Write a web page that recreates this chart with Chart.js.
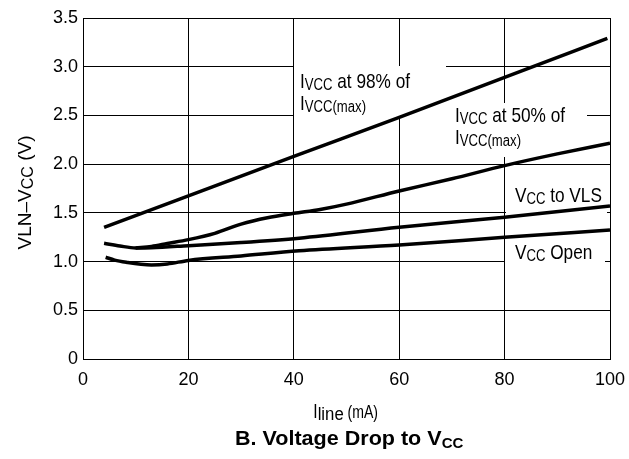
<!DOCTYPE html>
<html>
<head>
<meta charset="utf-8">
<script src="https://cdn.jsdelivr.net/npm/chart.js@4"></script>
<style>
  html, body { margin: 0; padding: 0; background: #fff; }
  #wrap { width: 629px; height: 459px; position: relative; }
</style>
</head>
<body>
<div id="wrap"><canvas id="c" width="629" height="459"></canvas></div>
<script>
// ---- data ----
const xTicks = [0, 20, 40, 60, 80, 100];
const yTicks = [0, 0.5, 1.0, 1.5, 2.0, 2.5, 3.0, 3.5];

const iLine98 = [4, 20, 40, 60, 80, 99.5];
const drop98  = [1.35, 1.675, 2.08, 2.48, 2.89, 3.29];

const iLine50 = [10, 13, 16, 20, 25, 30, 35, 40, 45, 50, 60, 70, 80, 90, 100];
const drop50  = [1.14, 1.155, 1.185, 1.225, 1.29, 1.385, 1.45, 1.495, 1.535, 1.59, 1.725, 1.85, 1.985, 2.105, 2.215];

const iLineVLS = [4, 7, 10, 13, 20, 30, 41, 60, 80, 100];
const dropVLS  = [1.188, 1.16, 1.14, 1.142, 1.163, 1.195, 1.24, 1.352, 1.455, 1.57];

const iLineOpen = [4.3, 6, 8.5, 11, 13, 16, 20, 30, 41, 60, 80, 100];
const dropOpen  = [1.044, 1.015, 0.99, 0.972, 0.965, 0.975, 1.012, 1.058, 1.11, 1.17, 1.249, 1.324];

const pts = (xs, ys) => xs.map((x, i) => ({ x: x, y: ys[i] }));

const FONT = "'Liberation Sans', Arial, Helvetica, sans-serif";

function drawRich(ctx, x, y, segs, rotate) {
  ctx.save();
  ctx.translate(x, y);
  if (rotate) ctx.rotate(-Math.PI / 2);
  ctx.fillStyle = '#000';
  ctx.textBaseline = 'alphabetic';
  ctx.textAlign = 'left';
  let cx = 0;
  const widths = segs.map(s => {
    ctx.font = (s.bold ? 'bold ' : '') + s.s + 'px ' + FONT;
    return ctx.measureText(s.t).width * (s.sx || 1);
  });
  const total = widths.reduce((a, b) => a + b, 0);
  if (rotate) cx = -total / 2;
  segs.forEach((s, i) => {
    ctx.font = (s.bold ? 'bold ' : '') + s.s + 'px ' + FONT;
    ctx.save();
    ctx.translate(cx, s.dy || 0);
    ctx.scale(s.sx || 1, 1);
    ctx.fillText(s.t, 0, 0);
    ctx.restore();
    cx += widths[i];
  });
  ctx.restore();
}

const N = 0.82; // condensed factor of the annotation font

const annotations = {
  id: 'annotations',
  beforeDatasetsDraw(chart) {
    const ctx = chart.ctx;
    ctx.save();
    ctx.fillStyle = '#fff';
    ctx.fillRect(294, 66, 152, 51);
    ctx.fillRect(446, 103, 141, 54);
    ctx.fillRect(506, 180, 101, 33);
    ctx.fillRect(505, 238, 100, 24);
    ctx.restore();
  },
  afterDatasetsDraw(chart) {
    const ctx = chart.ctx;
    drawRich(ctx, 300, 88, [{t:'I', s:21, sx:N}, {t:'VCC', s:16, sx:N, dy:2}, {t:' at 98% of', s:21, sx:N}]);
    drawRich(ctx, 300, 110, [{t:'I', s:21, sx:N}, {t:'VCC(max)', s:16, sx:N, dy:2}]);
    drawRich(ctx, 455, 121.5, [{t:'I', s:21, sx:N}, {t:'VCC', s:16, sx:N, dy:2}, {t:' at 50% of', s:21, sx:N}]);
    drawRich(ctx, 455, 143.5, [{t:'I', s:21, sx:N}, {t:'VCC(max)', s:16, sx:N, dy:2}]);
    drawRich(ctx, 515, 201.5, [{t:'V', s:21, sx:N}, {t:'CC', s:16, sx:N, dy:2}, {t:' to VLS', s:21, sx:N}]);
    drawRich(ctx, 515, 259, [{t:'V', s:21, sx:N}, {t:'CC', s:16, sx:N, dy:2}, {t:' Open', s:21, sx:N}]);
    // axis titles
    drawRich(ctx, 31, 192.5, [{t:'VLN\u2013V', s:19}, {t:'CC', s:16, dy:2}, {t:' (V)', s:19}], true);
    drawRich(ctx, 313.3, 417.7, [{t:'I', s:20, sx:0.78}, {t:'line', s:18, sx:0.93, dy:2.5}, {t:' (mA)', s:19, sx:0.74}]);
    // caption
    drawRich(ctx, 235, 444.7, [{t:'B. Voltage Drop to V', s:20, bold:true, sx:1.077}, {t:'CC', s:15, bold:true, dy:3}]);
  }
};

const lineStyle = { borderColor: '#000', borderWidth: 3.5, pointRadius: 0, fill: false, cubicInterpolationMode: 'monotone', borderCapStyle: 'butt' };

new Chart(document.getElementById('c'), {
  type: 'line',
  data: {
    datasets: [
      Object.assign({ label: 'IVCC at 98% of IVCC(max)', data: pts(iLine98, drop98) }, lineStyle),
      Object.assign({ label: 'IVCC at 50% of IVCC(max)', data: pts(iLine50, drop50) }, lineStyle),
      Object.assign({ label: 'VCC to VLS', data: pts(iLineVLS, dropVLS) }, lineStyle),
      Object.assign({ label: 'VCC Open', data: pts(iLineOpen, dropOpen) }, lineStyle)
    ]
  },
  options: {
    responsive: false,
    animation: false,
    devicePixelRatio: 1,
    layout: { padding: { left: 0, right: 19, top: 18, bottom: 0 } },
    plugins: { legend: { display: false }, tooltip: { enabled: false }, title: { display: false } },
    scales: {
      x: {
        type: 'linear', min: 0, max: 100,
        afterBuildTicks: s => { s.ticks = xTicks.map(v => ({ value: v })); },
        afterFit: s => { s.height = 100; s.paddingLeft = 0; s.paddingRight = 0; },
        grid: { color: '#000', lineWidth: 1, drawTicks: false },
        border: { display: true, color: '#000', width: 1 },
        ticks: { color: '#000', font: { family: FONT, size: 18 }, padding: 10, maxRotation: 0, autoSkip: false }
      },
      y: {
        type: 'linear', min: 0, max: 3.5,
        afterBuildTicks: s => { s.ticks = yTicks.map(v => ({ value: v })); },
        afterFit: s => { s.width = 83; s.paddingTop = 0; s.paddingBottom = 0; },
        grid: { color: '#000', lineWidth: 1, drawTicks: false },
        border: { display: true, color: '#000', width: 1 },
        ticks: {
          color: '#000', font: { family: FONT, size: 18 }, padding: 5,
          callback: v => (v === 0 ? '0' : v.toFixed(1))
        }
      }
    }
  },
  plugins: [annotations]
});
</script>
</body>
</html>
